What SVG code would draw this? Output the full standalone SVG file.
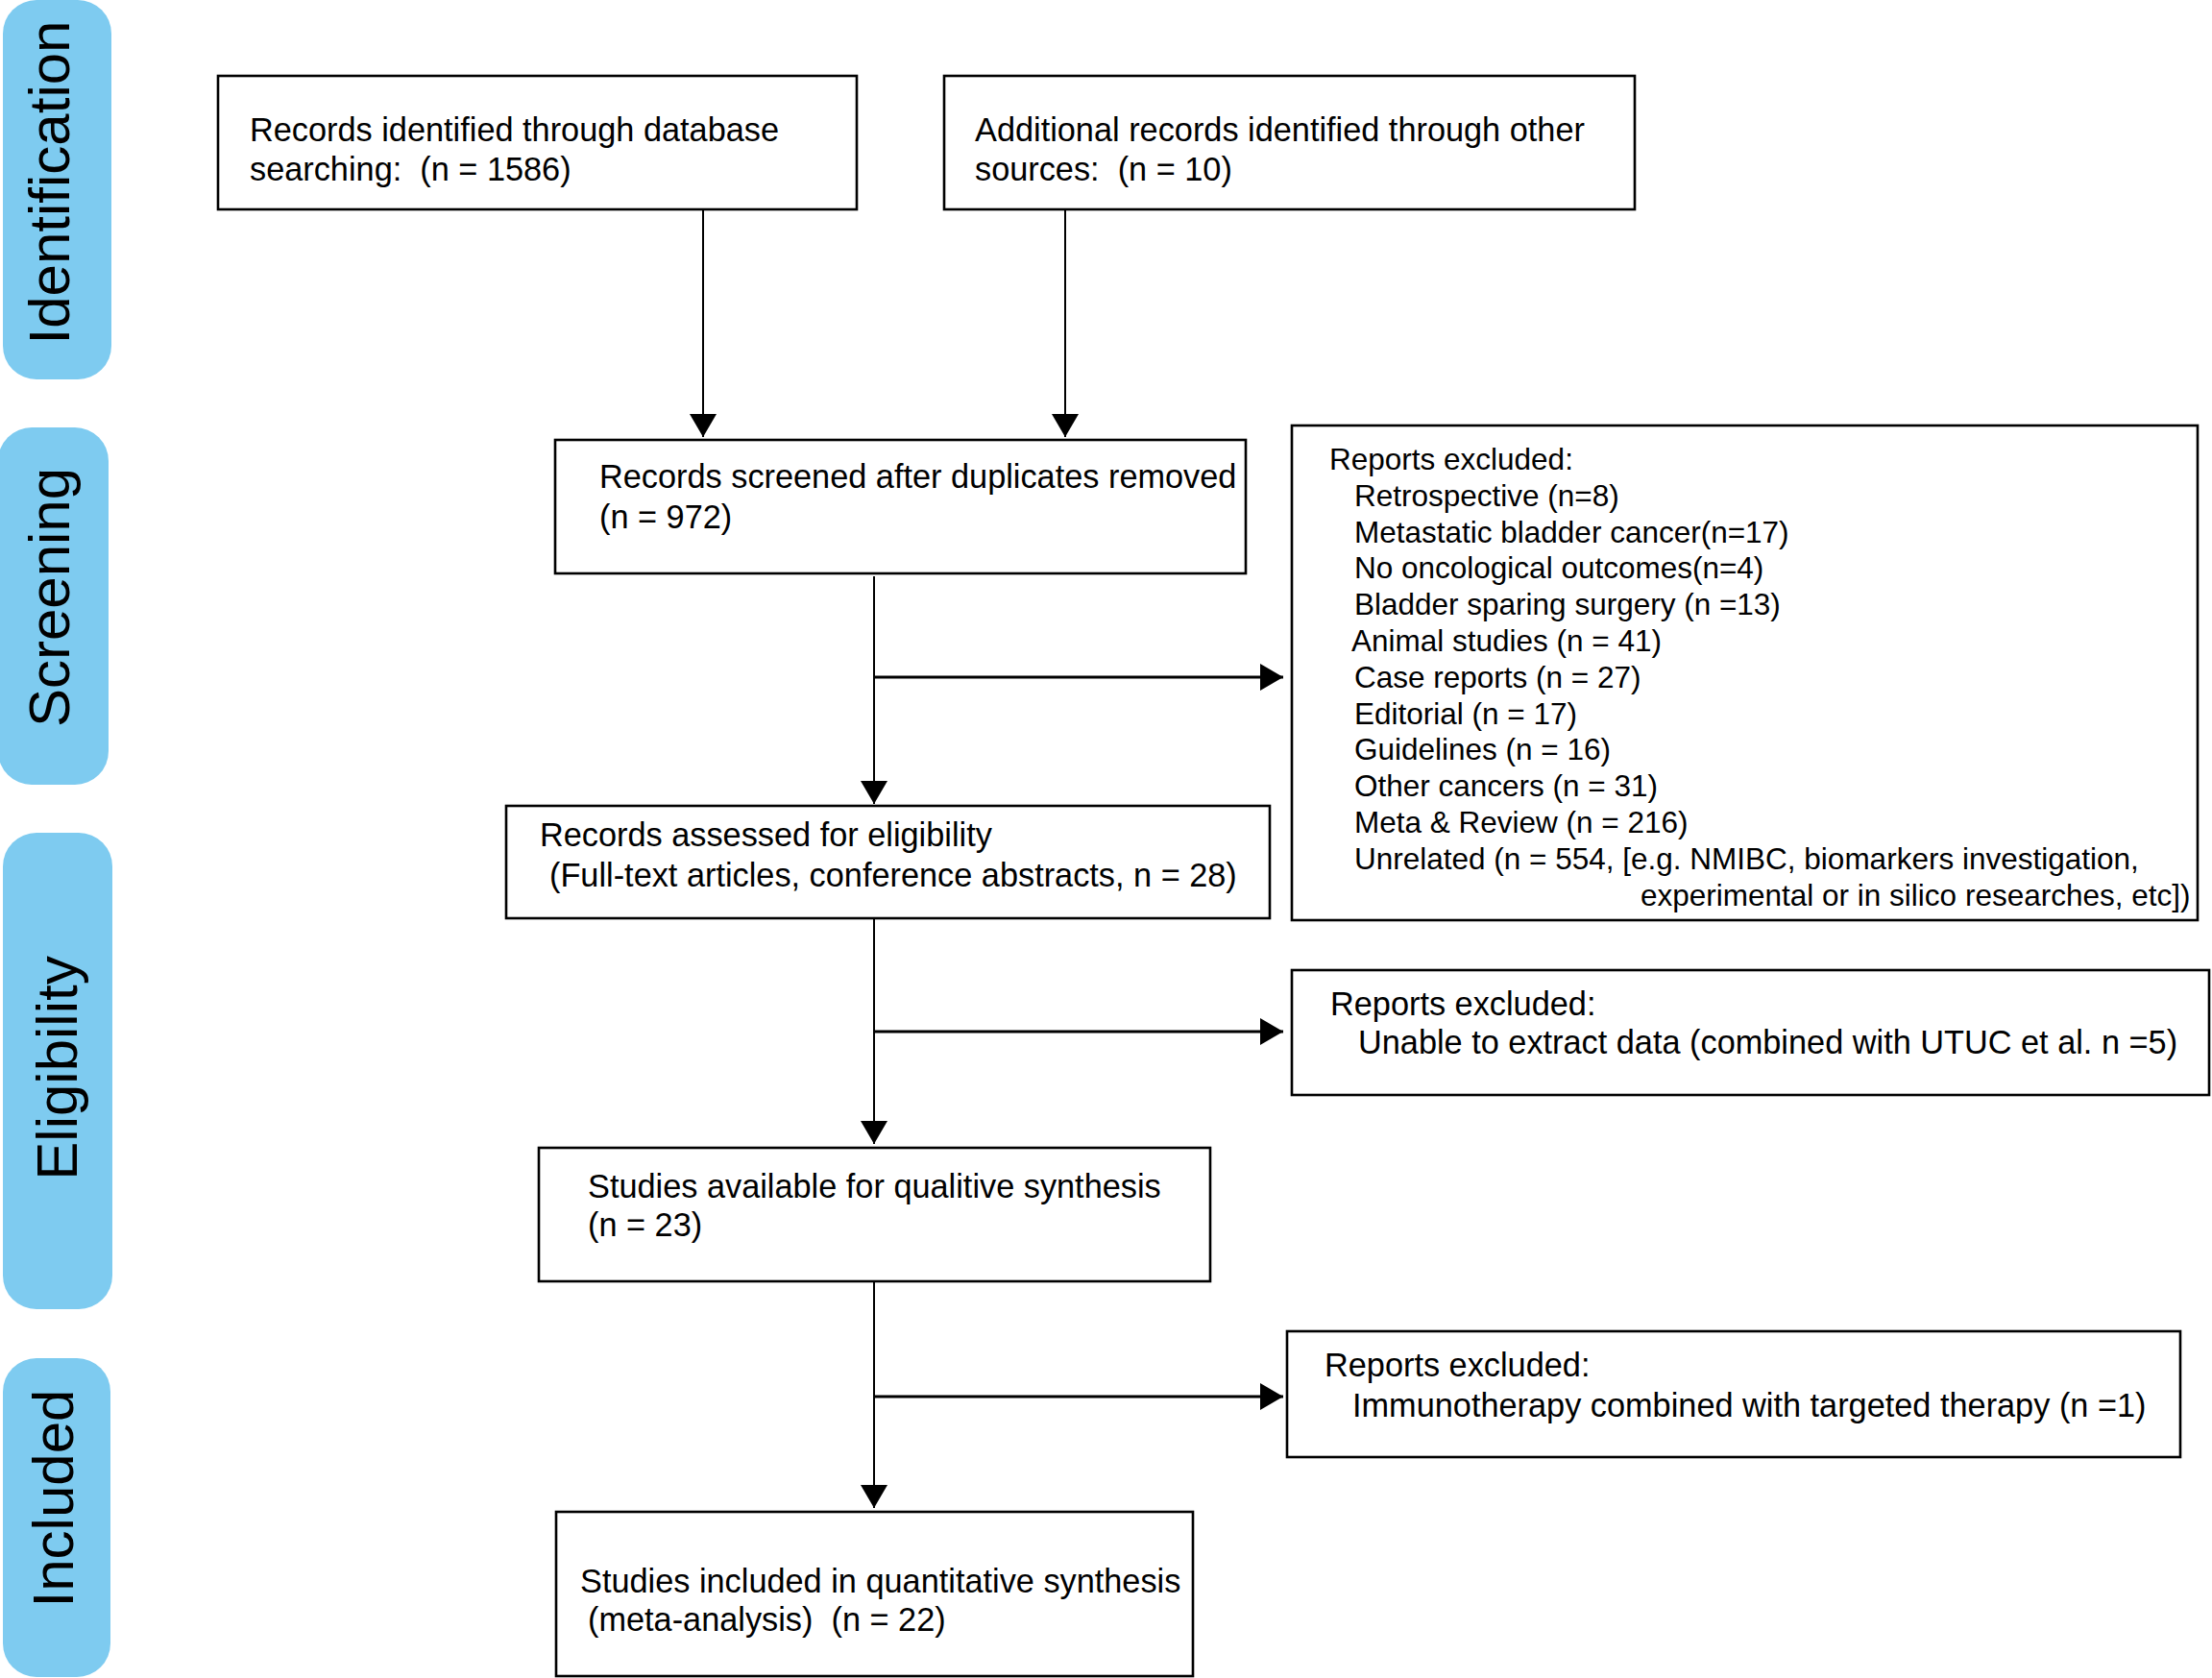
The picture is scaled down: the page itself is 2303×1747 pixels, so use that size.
<svg xmlns="http://www.w3.org/2000/svg" width="2303" height="1747" viewBox="0 0 2303 1747">
<style>
  .box { fill: #ffffff; stroke: #000000; stroke-width: 2.6; }
  .pill { fill: #7ecbf0; stroke: none; }
  .t { font-family: "Liberation Sans", Arial, Helvetica, sans-serif; font-size: 34.3px; fill: #000000; white-space: pre; }
  .ts { font-family: "Liberation Sans", Arial, Helvetica, sans-serif; font-size: 31.5px; fill: #000000; white-space: pre; }
  .pt { font-family: "Liberation Sans", Arial, Helvetica, sans-serif; font-size: 60px; fill: #000000; text-anchor: middle; }
  .v { stroke: #000000; stroke-width: 2; fill: none; }
  .h { stroke: #000000; stroke-width: 3; fill: none; }
</style>
<defs>
  <marker id="ah" markerUnits="userSpaceOnUse" markerWidth="26" markerHeight="30" refX="24" refY="14" orient="auto" viewBox="0 0 26 30">
    <path d="M0,0 L24,14 L0,28 Z" fill="#000000"/>
  </marker>
</defs>
<rect x="0" y="0" width="2303" height="1747" fill="#ffffff"/>

<g id="stage-identification">
  <rect class="pill" x="3" y="0" width="113" height="395" rx="35" ry="35"/>
  <text class="pt" transform="translate(72,190) rotate(-90)">Identification</text>
</g>
<g id="stage-screening">
  <rect class="pill" x="-2" y="445" width="115" height="372" rx="35" ry="35"/>
  <text class="pt" transform="translate(72,622) rotate(-90)">Screening</text>
</g>
<g id="stage-eligibility">
  <rect class="pill" x="3" y="867" width="114" height="496" rx="35" ry="35"/>
  <text class="pt" transform="translate(80,1112) rotate(-90)">Eligibility</text>
</g>
<g id="stage-included">
  <rect class="pill" x="3" y="1414" width="112" height="332" rx="35" ry="35"/>
  <text class="pt" transform="translate(76,1560) rotate(-90)">Included</text>
</g>

<g id="connectors">
  <line class="v" x1="732" y1="218" x2="732" y2="455" marker-end="url(#ah)"/>
  <line class="v" x1="1109" y1="218" x2="1109" y2="455" marker-end="url(#ah)"/>
  <line class="v" x1="910" y1="600" x2="910" y2="837" marker-end="url(#ah)"/>
  <line class="h" x1="910" y1="705" x2="1336" y2="705" marker-end="url(#ah)"/>
  <line class="v" x1="910" y1="956" x2="910" y2="1191" marker-end="url(#ah)"/>
  <line class="h" x1="910" y1="1074" x2="1336" y2="1074" marker-end="url(#ah)"/>
  <line class="v" x1="910" y1="1334" x2="910" y2="1570" marker-end="url(#ah)"/>
  <line class="h" x1="910" y1="1454" x2="1336" y2="1454" marker-end="url(#ah)"/>
</g>

<g id="node-database">
  <rect class="box" x="227" y="79" width="665" height="139"/>
  <text class="t" x="260" y="147">Records identified through database</text>
  <text class="t" x="260" y="188">searching:  (n = 1586)</text>
</g>
<g id="node-other-sources">
  <rect class="box" x="983" y="79" width="719" height="139"/>
  <text class="t" x="1015" y="147">Additional records identified through other</text>
  <text class="t" x="1015" y="188">sources:  (n = 10)</text>
</g>
<g id="node-screened">
  <rect class="box" x="578" y="458" width="719" height="139"/>
  <text class="t" x="624" y="508">Records screened after duplicates removed</text>
  <text class="t" x="624" y="550">(n = 972)</text>
</g>
<g id="node-excluded-screening">
  <rect class="box" x="1345" y="443" width="943" height="515"/>
  <text class="ts" x="1384" y="489">Reports excluded:</text>
  <text class="ts" x="1410" y="527">Retrospective (n=8)</text>
  <text class="ts" x="1410" y="565">Metastatic bladder cancer(n=17)</text>
  <text class="ts" x="1410" y="602">No oncological outcomes(n=4)</text>
  <text class="ts" x="1410" y="640">Bladder sparing surgery (n =13)</text>
  <text class="ts" x="1407" y="678">Animal studies (n = 41)</text>
  <text class="ts" x="1410" y="716">Case reports (n = 27)</text>
  <text class="ts" x="1410" y="754">Editorial (n = 17)</text>
  <text class="ts" x="1410" y="791">Guidelines (n = 16)</text>
  <text class="ts" x="1410" y="829">Other cancers (n = 31)</text>
  <text class="ts" x="1410" y="867">Meta &amp; Review (n = 216)</text>
  <text class="ts" x="1410" y="905">Unrelated (n = 554, [e.g. NMIBC, biomarkers investigation,</text>
  <text class="ts" x="1708" y="943">experimental or in silico researches, etc])</text>
</g>
<g id="node-assessed">
  <rect class="box" x="527" y="839" width="795" height="117"/>
  <text class="t" x="562" y="881">Records assessed for eligibility</text>
  <text class="t" x="572" y="923">(Full-text articles, conference abstracts, n = 28)</text>
</g>
<g id="node-excluded-eligibility">
  <rect class="box" x="1345" y="1010" width="955" height="130"/>
  <text class="t" x="1385" y="1057">Reports excluded:</text>
  <text class="t" x="1414" y="1097">Unable to extract data (combined with UTUC et al. n =5)</text>
</g>
<g id="node-qualitative">
  <rect class="box" x="561" y="1195" width="699" height="139"/>
  <text class="t" x="612" y="1247">Studies available for qualitive synthesis</text>
  <text class="t" x="612" y="1287">(n = 23)</text>
</g>
<g id="node-excluded-included">
  <rect class="box" x="1340" y="1386" width="930" height="131"/>
  <text class="t" x="1379" y="1433">Reports excluded:</text>
  <text class="t" x="1408" y="1475">Immunotherapy combined with targeted therapy (n =1)</text>
</g>
<g id="node-quantitative">
  <rect class="box" x="579" y="1574" width="663" height="171"/>
  <text class="t" x="604" y="1658">Studies included in quantitative synthesis</text>
  <text class="t" x="612" y="1698">(meta-analysis)  (n = 22)</text>
</g>
</svg>
